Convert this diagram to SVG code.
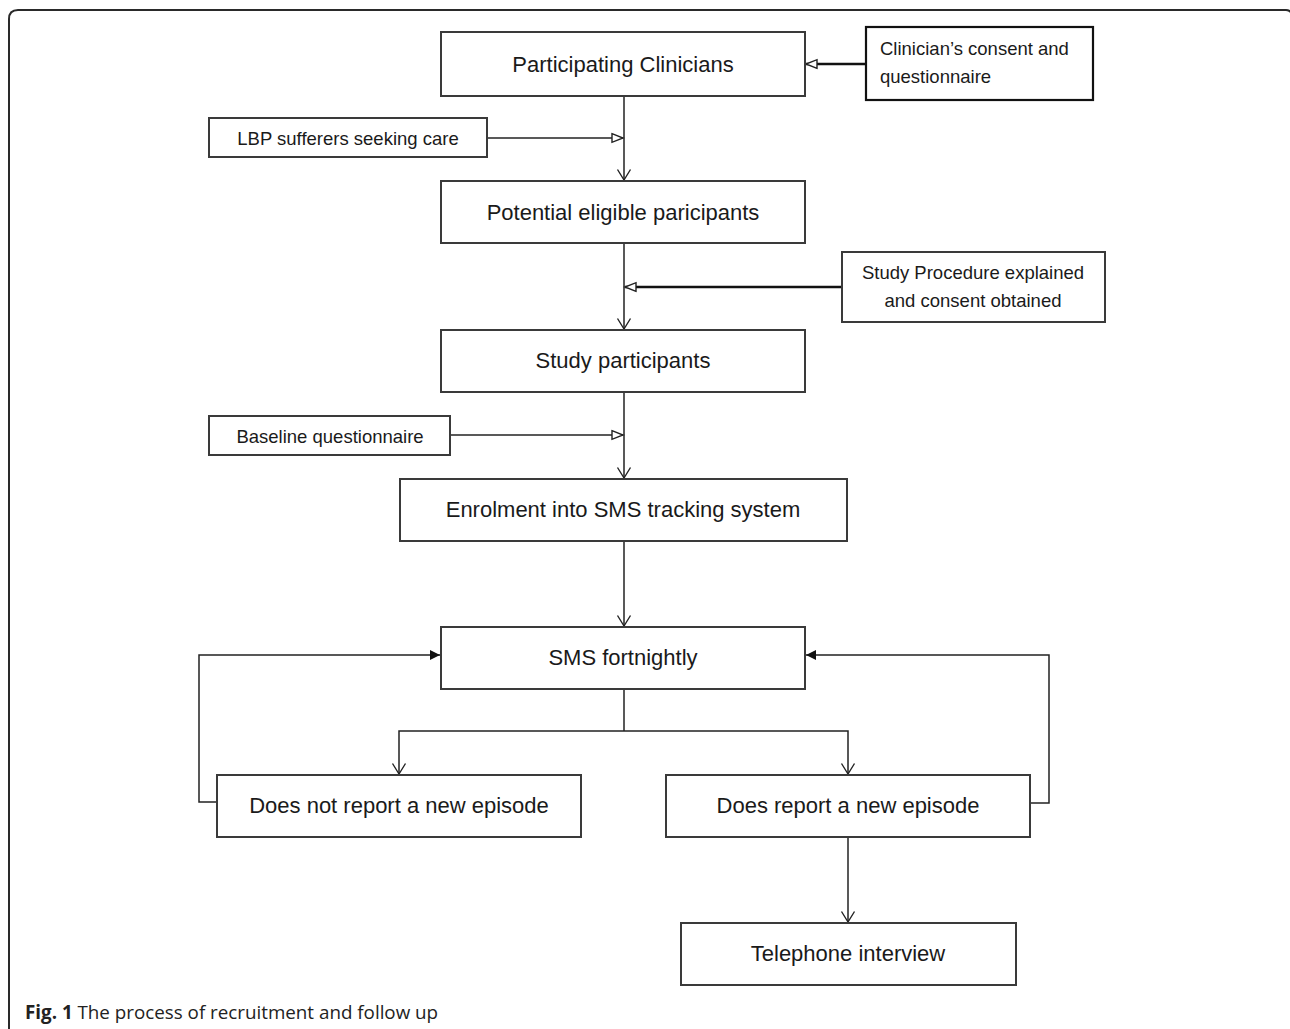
<svg xmlns="http://www.w3.org/2000/svg" width="1290" height="1029" viewBox="0 0 1290 1029">
<style>
.box{fill:#fff;stroke:#3a3a3a;stroke-width:2}
.boxb{fill:#fff;stroke:#111;stroke-width:2.2}
.t{font-family:"Liberation Sans",Arial,sans-serif;font-size:22px;fill:#1a1a1a;text-anchor:middle}
.s{font-family:"Liberation Sans",Arial,sans-serif;font-size:18.5px;fill:#1a1a1a;text-anchor:middle}
.c{fill:none;stroke:#222;stroke-width:1.5}
.ct{fill:none;stroke:#111;stroke-width:2.3}
.cap{font-family:"Open Sans","Liberation Sans",sans-serif;font-size:18.8px;fill:#222}
</style>
<defs>
<marker id="v" viewBox="-14 -8 16 16" markerWidth="16" markerHeight="16" refX="0" refY="0" orient="auto" markerUnits="userSpaceOnUse">
<path d="M-10.5,-6.5 L0,0 L-10.5,6.5" fill="none" stroke="#222" stroke-width="1.4"/>
</marker>
<marker id="h" viewBox="-14 -8 16 16" markerWidth="16" markerHeight="16" refX="0" refY="0" orient="auto" markerUnits="userSpaceOnUse">
<path d="M-11,-4.3 L0,0 L-11,4.3 Z" fill="#fff" stroke="#222" stroke-width="1.4"/>
</marker>
<marker id="f" viewBox="-14 -8 16 16" markerWidth="16" markerHeight="16" refX="0" refY="0" orient="auto" markerUnits="userSpaceOnUse">
<path d="M-10,-5 L0,0 L-10,5 Z" fill="#111" stroke="none"/>
</marker>
</defs>
<rect width="1290" height="1029" fill="#fff"/>
<path d="M9,1035 L9,19 Q9,10 18,10 L1286,10 Q1290,10 1292,14" fill="none" stroke="#2a2a2a" stroke-width="2"/>

<g id="connectors">
<path class="c" d="M624,96 V180" marker-end="url(#v)"/>
<path class="c" d="M487,138 H623" marker-end="url(#h)"/>
<path class="ct" d="M866,64 H806" marker-end="url(#h)"/>
<path class="c" d="M624,243 V329" marker-end="url(#v)"/>
<path class="ct" d="M842,287 H625" marker-end="url(#h)"/>
<path class="c" d="M624,392 V478" marker-end="url(#v)"/>
<path class="c" d="M450,435 H623" marker-end="url(#h)"/>
<path class="c" d="M624,541 V626" marker-end="url(#v)"/>
<path class="c" d="M624,689 V731"/>
<path class="c" d="M624,731 H399 V774" marker-end="url(#v)"/>
<path class="c" d="M624,731 H848 V774" marker-end="url(#v)"/>
<path class="c" d="M217,802 H199 V655 H440" marker-end="url(#f)"/>
<path class="c" d="M1030,803 H1049 V655 H806" marker-end="url(#f)"/>
<path class="c" d="M848,837 V922" marker-end="url(#v)"/>
</g>

<g id="n1"><rect class="box" x="441" y="32" width="364" height="64"/><text class="t" x="623" y="72">Participating Clinicians</text></g>
<g id="n2"><rect class="boxb" x="866" y="27" width="227" height="73"/><text class="s" x="880" y="55" style="text-anchor:start">Clinician’s consent and</text><text class="s" x="880" y="83" style="text-anchor:start">questionnaire</text></g>
<g id="n3"><rect class="box" x="209" y="118" width="278" height="39"/><text class="s" x="348" y="145">LBP sufferers seeking care</text></g>
<g id="n4"><rect class="box" x="441" y="181" width="364" height="62"/><text class="t" x="623" y="220">Potential eligible paricipants</text></g>
<g id="n5"><rect class="box" x="842" y="252" width="263" height="70"/><text class="s" x="973" y="279">Study Procedure explained</text><text class="s" x="973" y="307">and consent obtained</text></g>
<g id="n6"><rect class="box" x="441" y="330" width="364" height="62"/><text class="t" x="623" y="368">Study participants</text></g>
<g id="n7"><rect class="box" x="209" y="416" width="241" height="39"/><text class="s" x="330" y="443">Baseline questionnaire</text></g>
<g id="n8"><rect class="box" x="400" y="479" width="447" height="62"/><text class="t" x="623" y="517">Enrolment into SMS tracking system</text></g>
<g id="n9"><rect class="box" x="441" y="627" width="364" height="62"/><text class="t" x="623" y="665">SMS fortnightly</text></g>
<g id="n10"><rect class="box" x="217" y="775" width="364" height="62"/><text class="t" x="399" y="813">Does not report a new episode</text></g>
<g id="n11"><rect class="box" x="666" y="775" width="364" height="62"/><text class="t" x="848" y="813">Does report a new episode</text></g>
<g id="n12"><rect class="box" x="681" y="923" width="335" height="62"/><text class="t" x="848" y="961">Telephone interview</text></g>

<text class="cap" x="25" y="1019"><tspan font-weight="bold">Fig. 1</tspan> The process of recruitment and follow up</text>
</svg>
